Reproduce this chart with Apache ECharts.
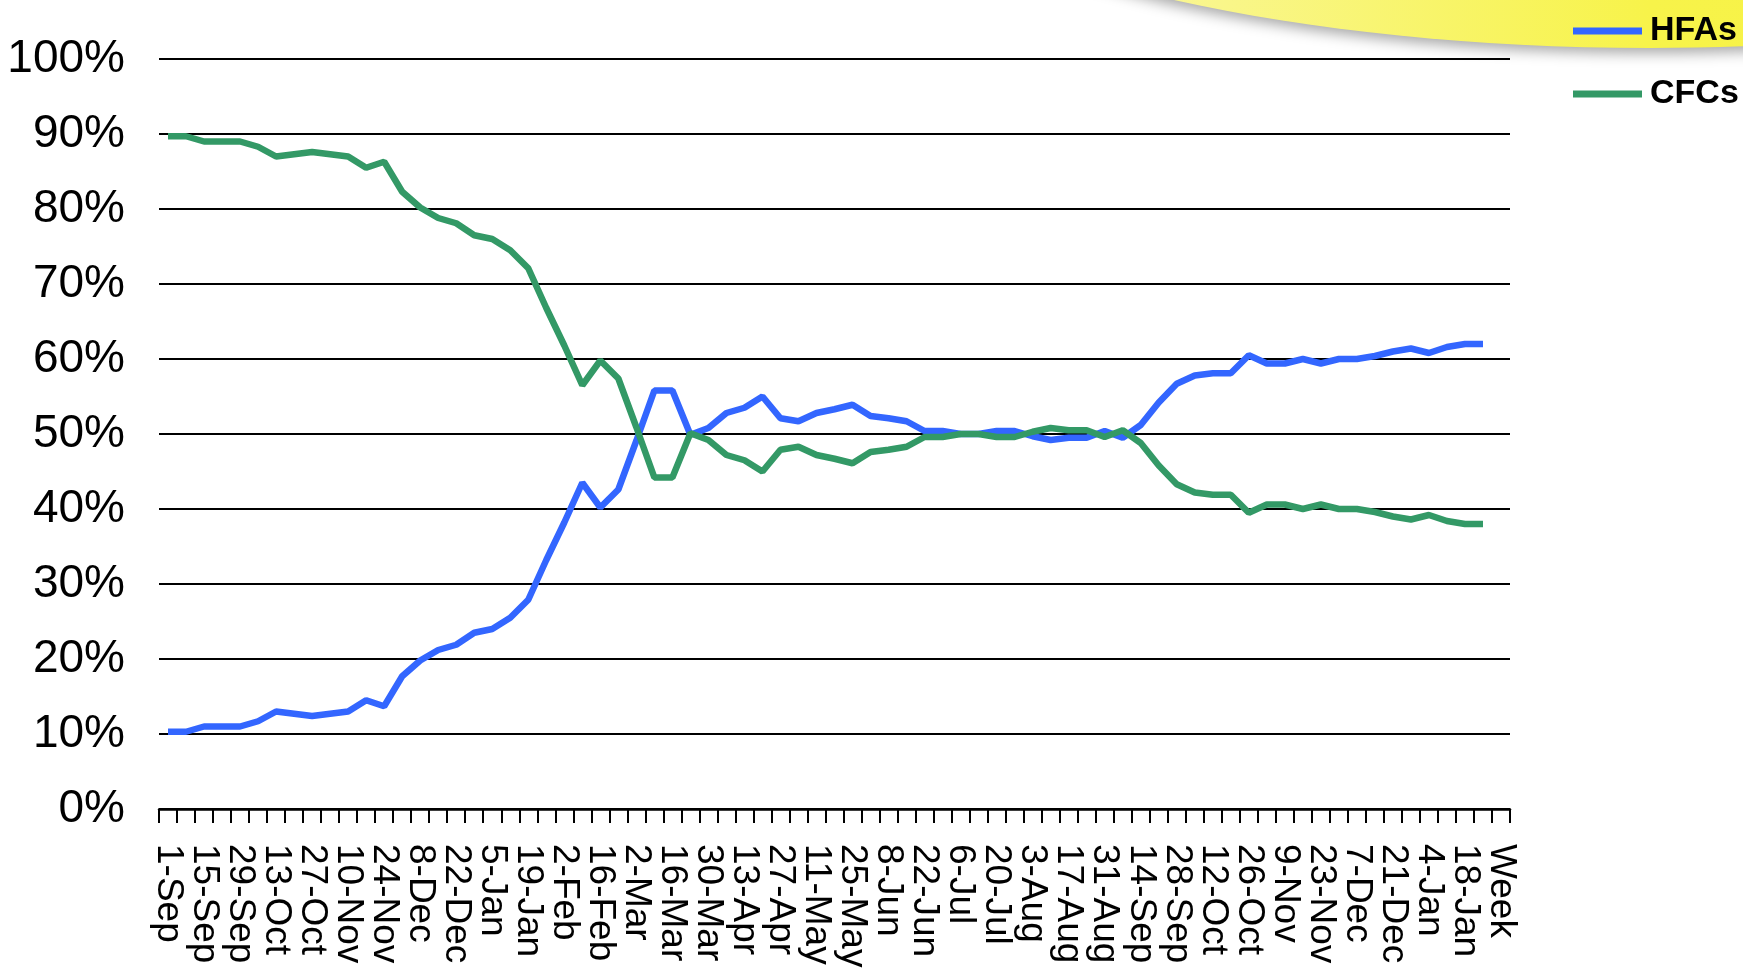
<!DOCTYPE html>
<html>
<head>
<meta charset="utf-8">
<script src="https://cdn.jsdelivr.net/npm/echarts@6/dist/echarts.min.js"></script>
<style>
html,body{margin:0;padding:0;background:#fff;}
#chart{width:1743px;height:980px;}
</style>
</head>
<body>
<div id="chart"></div>
<script>
const categories = ['1-Sep','8-Sep','15-Sep','22-Sep','29-Sep','6-Oct','13-Oct','20-Oct','27-Oct','3-Nov',
  '10-Nov','17-Nov','24-Nov','1-Dec','8-Dec','15-Dec','22-Dec','29-Dec','5-Jan','12-Jan',
  '19-Jan','26-Jan','2-Feb','9-Feb','16-Feb','23-Feb','2-Mar','9-Mar','16-Mar','23-Mar',
  '30-Mar','6-Apr','13-Apr','20-Apr','27-Apr','4-May','11-May','18-May','25-May','1-Jun',
  '8-Jun','15-Jun','22-Jun','29-Jun','6-Jul','13-Jul','20-Jul','27-Jul','3-Aug','10-Aug',
  '17-Aug','24-Aug','31-Aug','7-Sep','14-Sep','21-Sep','28-Sep','5-Oct','12-Oct','19-Oct',
  '26-Oct','2-Nov','9-Nov','16-Nov','23-Nov','30-Nov','7-Dec','14-Dec','21-Dec','28-Dec',
  '4-Jan','11-Jan','18-Jan','25-Jan','Week'];

const hfas = [10.3,10.3,11.0,11.0,11.0,11.7,13.0,12.7,12.4,12.7,
  13.0,14.5,13.7,17.7,19.8,21.2,21.9,23.5,24.0,25.5,
  27.9,33.2,38.2,43.5,40.2,42.6,49.1,55.8,55.8,49.9,
  50.8,52.8,53.5,55.0,52.1,51.7,52.8,53.3,53.9,52.4,
  52.1,51.7,50.4,50.4,50.0,50.0,50.4,50.4,49.7,49.2,
  49.5,49.5,50.4,49.5,51.2,54.2,56.7,57.8,58.1,58.1,
  60.5,59.4,59.4,60.0,59.4,60.0,60.0,60.4,61.0,61.4,
  60.8,61.6,62.0,62.0];

const cfcs = [89.7,89.7,89.0,89.0,89.0,88.3,87.0,87.3,87.6,87.3,
  87.0,85.5,86.3,82.3,80.2,78.8,78.1,76.5,76.0,74.5,
  72.1,66.8,61.8,56.5,59.8,57.4,50.9,44.2,44.2,50.1,
  49.2,47.2,46.5,45.0,47.9,48.3,47.2,46.7,46.1,47.6,
  47.9,48.3,49.6,49.6,50.0,50.0,49.6,49.6,50.3,50.8,
  50.5,50.5,49.6,50.5,48.8,45.8,43.3,42.2,41.9,41.9,
  39.5,40.6,40.6,40.0,40.6,40.0,40.0,39.6,39.0,38.6,
  39.2,38.4,38.0,38.0];

const yTicks = {min: 0, max: 100, interval: 10};
const seriesNames = ['HFAs', 'CFCs'];
const seriesColors = ['#3366ff', '#339966'];

// detect whether a narrow face is installed
function hasFont(name) {
  const c = document.createElement('canvas').getContext('2d');
  const s = 'WWmmll100%HFAs';
  c.font = '40px monospace';
  const w1 = c.measureText(s).width;
  c.font = '40px "' + name + '", monospace';
  const w2 = c.measureText(s).width;
  c.font = '40px serif';
  const w3 = c.measureText(s).width;
  c.font = '40px "' + name + '", serif';
  const w4 = c.measureText(s).width;
  return w1 !== w2 || w3 !== w4;
}
const font = 'Liberation Sans, Arial, Helvetica, sans-serif';
const narrowOK = hasFont('Liberation Sans Narrow');
const narrow = narrowOK ? '"Liberation Sans Narrow", Liberation Sans, Arial, sans-serif' : font;
const yFontSize = narrowOK ? 53 : 46;
const legendFontSize = narrowOK ? 42 : 34;

const chart = echarts.init(document.getElementById('chart'));

chart.setOption({
  backgroundColor: '#ffffff',
  animation: false,
  graphic: [{
    type: 'ellipse',
    z: 0,
    silent: true,
    shape: {cx: 1650, cy: -232, rx: 850, ry: 280},
    style: {
      fill: new echarts.graphic.LinearGradient(0, 0, 1, 0, [
        {offset: 0, color: '#fbf9c8'},
        {offset: 0.5, color: '#f7f34a'},
        {offset: 1, color: '#f6f13a'}
      ]),
      shadowBlur: 14,
      shadowColor: 'rgba(0,0,0,0.35)',
      shadowOffsetY: 5
    }
  }],
  grid: {left: 159, right: 233, top: 59, bottom: 171, containLabel: false},
  legend: {
    data: seriesNames,
    orient: 'vertical',
    left: 1568,
    top: 4,
    icon: 'rect',
    itemWidth: 69,
    itemHeight: 7,
    itemGap: 19,
    z: 10,
    textStyle: {fontFamily: narrow, fontSize: legendFontSize, fontWeight: 'bold', color: '#000', lineHeight: 44, padding: [0,0,0,3]}
  },
  xAxis: {
    type: 'category',
    data: categories,
    boundaryGap: true,
    axisLine: {show: true, lineStyle: {color: '#000', width: 2.5}},
    axisTick: {show: true, interval: 0, length: 14, alignWithLabel: false, lineStyle: {color: '#000', width: 2}},
    axisLabel: {interval: 0, rotate: -90, margin: 35, hideOverlap: false,
      formatter: function (value, index) { return index % 2 === 0 ? value : ''; },
      fontFamily: font, fontSize: 37, lineHeight: 30, color: '#000', padding: [24, 0, 0, 0]},
    splitLine: {show: false}
  },
  yAxis: {
    type: 'value',
    min: yTicks.min,
    max: yTicks.max,
    interval: yTicks.interval,
    axisLine: {show: false},
    axisTick: {show: false},
    axisLabel: {formatter: '{value}%', margin: 34, fontFamily: narrow, fontSize: yFontSize, color: '#000'},
    splitLine: {show: true, lineStyle: {color: '#000', width: 2}}
  },
  series: [
    {name: seriesNames[0], type: 'line', data: hfas, symbol: 'none', z: 3,
     lineStyle: {color: seriesColors[0], width: 6.5}, itemStyle: {color: seriesColors[0]}},
    {name: seriesNames[1], type: 'line', data: cfcs, symbol: 'none', z: 4,
     lineStyle: {color: seriesColors[1], width: 6.5}, itemStyle: {color: seriesColors[1]}}
  ]
});
</script>
</body>
</html>
